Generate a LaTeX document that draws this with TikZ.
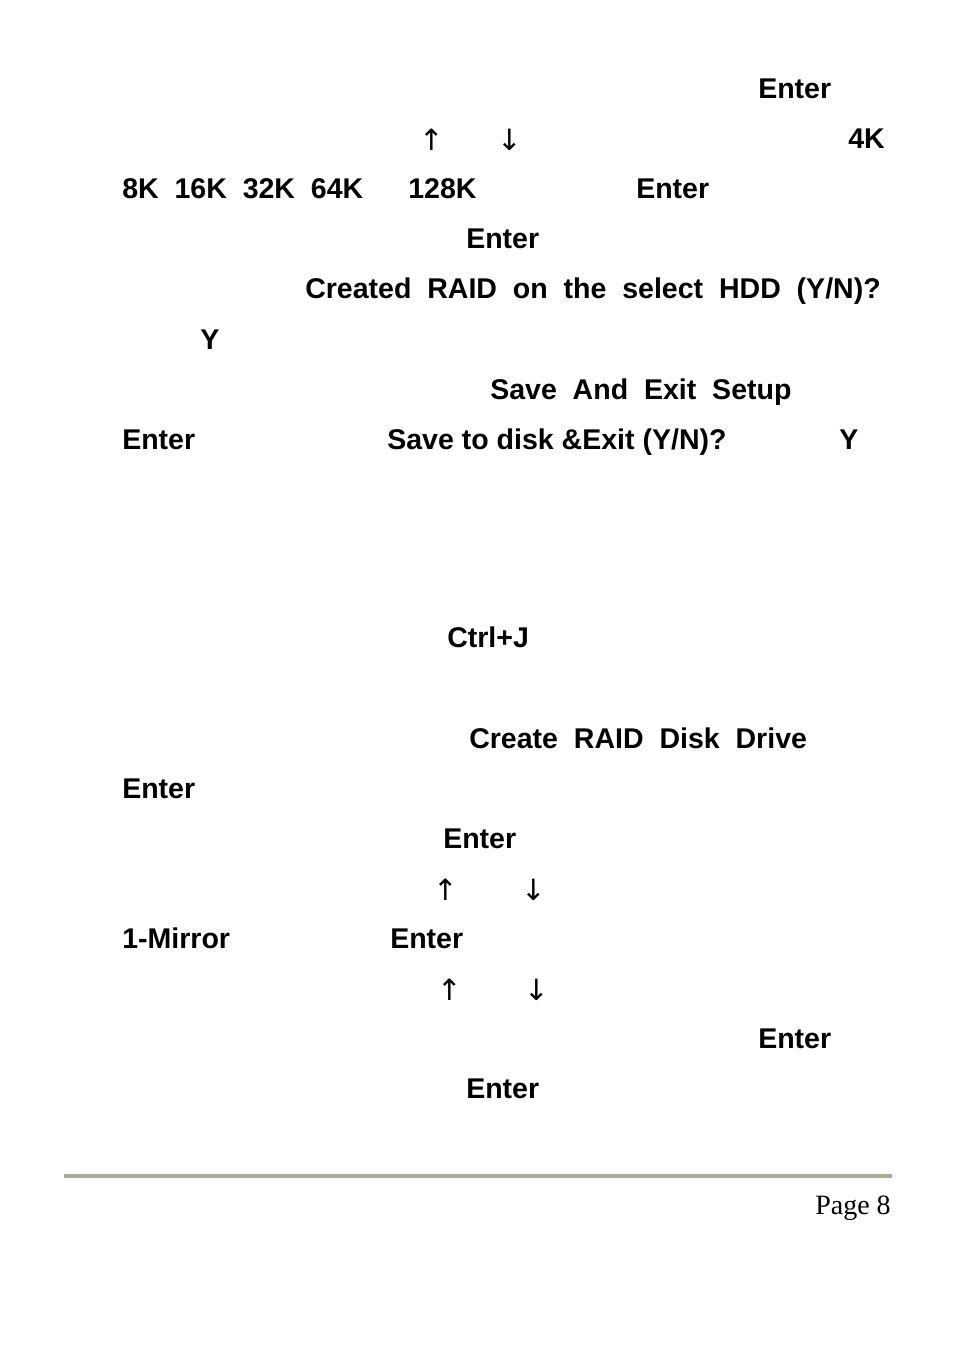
\documentclass[tikz,border=0pt]{standalone}
\usepackage{fontspec}
\setmainfont{Liberation Sans}
\newfontfamily\arrowfont{DejaVu Sans}
\newfontfamily\pagefont{Liberation Serif}
\begin{document}
\begin{tikzpicture}[x=0.75pt,y=-0.75pt,
  t/.style={anchor=base west,inner sep=0pt,font=\fontsize{21.4}{24}\selectfont\bfseries},
  ar/.style={anchor=base west,inner sep=0pt,font=\fontsize{22}{24}\arrowfont}]
\useasboundingbox (0,0) rectangle (954,1346);
\node[t] (a1) at (758,98.5) {Enter};
\node[ar] (a2) at (419,150.5) {↑};
\node[ar] (a3) at (497,150.5) {↓};
\node[t] (a4) at (848,148.5) {4K};
\node[t] (b1) at (122,198.5) {8K\ \ 16K\ \ 32K\ \ 64K};
\node[t] (b2) at (408,198.5) {128K};
\node[t] (b3) at (636,198.5) {Enter};
\node[t] (c1) at (466,248.5) {Enter};
\node[t] (c2) at (305,298.5) {Created\ \ RAID\ \ on\ \ the\ \ select\ \ HDD\ \ (Y/N)?};
\node[t] (c3) at (200,349.5) {Y};
\node[t] (d1) at (490,399.5) {Save\ \ And\ \ Exit\ \ Setup};
\node[t] (d2) at (122,449.5) {Enter};
\node[t] (d3) at (387,449.5) {Save to disk \&Exit (Y/N)?};
\node[t] (d4) at (839,449.5) {Y};
\node[t] (e1) at (447,647.5) {Ctrl+J};
\node[t] (e2) at (469,748.5) {Create\ \ RAID\ \ Disk\ \ Drive};
\node[t] (e3) at (122,798.5) {Enter};
\node[t] (e4) at (443,848.5) {Enter};
\node[ar] (f1) at (433,900.5) {↑};
\node[ar] (f2) at (521,900.5) {↓};
\node[t] (f3) at (122,948.5) {1-Mirror};
\node[t] (f4) at (390,948.5) {Enter};
\node[ar] (g1) at (437,1000.5) {↑};
\node[ar] (g2) at (524,1000.5) {↓};
\node[t] (g3) at (758,1048.5) {Enter};
\node[t] (g4) at (466,1098.5) {Enter};
\draw[line width=3pt,color={rgb,255:red,176;green,168;blue,152}] (64,1176) -- (892,1176);
\node[anchor=base east,inner sep=0pt,font=\fontsize{21}{24}\pagefont] (pg) at (891,1214) {Page 8};
\end{tikzpicture}
\end{document}
